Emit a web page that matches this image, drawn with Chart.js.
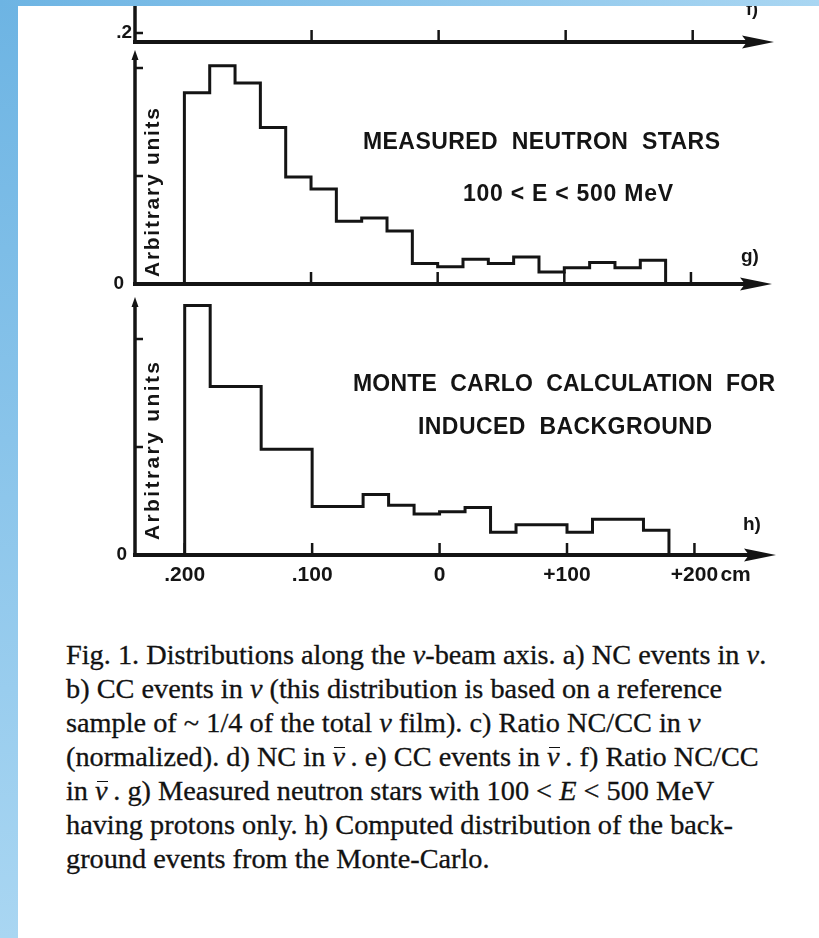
<!DOCTYPE html>
<html>
<head>
<meta charset="utf-8">
<script src="https://cdn.jsdelivr.net/npm/chart.js@4.4.1/dist/chart.umd.min.js"></script>
<style>
  html, body { margin: 0; padding: 0; background: #fff; }
  body { width: 819px; height: 938px; position: relative; overflow: hidden; }
  canvas { position: absolute; left: 0; }
  #edgeLeft { position: absolute; left: 0; top: 0; width: 18px; height: 938px; z-index: 5;
    background: linear-gradient(to bottom, #6db4e3, #a9d6f2); }
  #edgeTop { position: absolute; left: 0; top: 0; width: 819px; height: 6px; z-index: 5;
    background: linear-gradient(to right, #6db4e3, #a9d6f2); }
  #caption { position: absolute; left: 66px; top: 638px; color: #121212; white-space: nowrap;
    font-family: "Liberation Serif", "Times New Roman", serif; font-size: 28.3px; line-height: 34px;
    -webkit-text-stroke: 0.3px #121212; }
  .nb { position: relative; font-style: italic; }
  .nb::before { content: ''; position: absolute; left: 2px; right: 0; top: 6px;
    border-top: 1.5px solid #121212; }
</style>
</head>
<body>
<div id="edgeLeft"></div>
<div id="edgeTop"></div>
<canvas id="panelF" width="819" height="50" style="top:0px"></canvas>
<canvas id="panelG" width="819" height="256" style="top:44px"></canvas>
<canvas id="panelH" width="819" height="308" style="top:292px"></canvas>
<div id="caption">
  <div>Fig. 1. Distributions along the <i>ν</i>-beam axis. a) NC events in <i>ν</i>.</div>
  <div>b) CC events in <i>ν</i> (this distribution is based on a reference</div>
  <div>sample of ~ 1/4 of the total <i>ν</i> film). c) Ratio NC/CC in <i>ν</i></div>
  <div>(normalized). d) NC in <span class="nb">ν</span>&thinsp;. e) CC events in <span class="nb">ν</span>&thinsp;. f) Ratio NC/CC</div>
  <div>in <span class="nb">ν</span>&thinsp;. g) Measured neutron stars with 100 &lt; <i>E</i> &lt; 500 MeV</div>
  <div>having protons only. h) Computed distribution of the back-</div>
  <div>ground events from the Monte-Carlo.</div>
</div>
<script>
// Position along the beam axis (cm): 20 cm bins from -200 to +180
const binEdges = [-200, -180, -160, -140, -120, -100, -80, -60, -40, -20,
                  0, 20, 40, 60, 80, 100, 120, 140, 160, 180];

// g) measured neutron stars, 100 < E < 500 MeV (arbitrary units)
const measuredStars = [1.77, 2.02, 1.86, 1.45, 0.99, 0.88, 0.58, 0.61, 0.49, 0.19,
                       0.16, 0.23, 0.19, 0.25, 0.11, 0.15, 0.20, 0.15, 0.22];

// h) Monte Carlo induced background (arbitrary units)
const monteCarloBg = [2.31, 1.56, 1.56, 0.98, 0.98, 0.45, 0.45, 0.56, 0.46, 0.38,
                      0.40, 0.44, 0.21, 0.28, 0.28, 0.21, 0.33, 0.33, 0.23];

// axis ticks
const xTickValues = [-200, -100, 0, 100, 200];
const xTickLabels = ['.200', '.100', '0', '+100', '+200'];
const xUnit = 'cm';
const yTickValues = [1, 2];
const fTickValue = 0.2;
const fTickLabel = '.2';

const INK = '#141414';
const SANS = '"Liberation Sans", Arial, Helvetica, sans-serif';

// histogram outline: up at the first edge, across each bin, down at the last edge
function outline(edges, values) {
  const pts = [{ x: edges[0], y: 0 }];
  values.forEach((v, i) => {
    pts.push({ x: edges[i], y: v });
    pts.push({ x: edges[i + 1], y: v });
  });
  pts.push({ x: edges[edges.length - 1], y: 0 });
  return pts;
}

// draw text so that it runs exactly from left to right
function spread(ctx, text, left, right, y) {
  ctx.letterSpacing = '0px';
  const w = ctx.measureText(text).width;
  const n = [...text].length;
  const ls = n > 1 ? (right - left - w) / (n - 1) : 0;
  ctx.letterSpacing = ls + 'px';
  ctx.textAlign = 'left';
  ctx.fillText(text, left, y);
  ctx.letterSpacing = '0px';
}

// axes with arrows, inward ticks and the panel lettering
const figAxes = {
  id: 'figAxes',
  afterDatasetsDraw(chart, args, o) {
    const { ctx, chartArea: a, scales: { x, y } } = chart;
    const y0 = y.getPixelForValue(y.min);
    ctx.save();
    ctx.strokeStyle = INK;
    ctx.fillStyle = INK;
    ctx.lineCap = 'butt';

    // horizontal axis with a solid arrowhead
    const tip = a.right;
    ctx.lineWidth = 4;
    ctx.beginPath();
    ctx.moveTo(a.left - 2, y0);
    ctx.lineTo(tip - 24, y0);
    ctx.stroke();
    ctx.beginPath();
    ctx.moveTo(tip, y0);
    ctx.lineTo(tip - 32, y0 - 6.5);
    ctx.lineTo(tip - 27, y0);
    ctx.lineTo(tip - 32, y0 + 6.5);
    ctx.closePath();
    ctx.fill();

    // vertical axis
    ctx.lineWidth = 3.5;
    ctx.beginPath();
    ctx.moveTo(a.left, y0 + (o.yBelow || 2));
    ctx.lineTo(a.left, a.top + (o.yArrow ? 6 : 0));
    ctx.stroke();
    if (o.yArrow) {
      ctx.beginPath();
      ctx.moveTo(a.left, a.top);
      ctx.lineTo(a.left - 3.5, a.top + 10);
      ctx.lineTo(a.left + 3.5, a.top + 10);
      ctx.closePath();
      ctx.fill();
    }

    // x ticks pointing up from the axis
    ctx.lineWidth = 2.5;
    (o.xTicks || []).forEach(v => {
      const px = x.getPixelForValue(v);
      ctx.beginPath();
      ctx.moveTo(px, y0);
      ctx.lineTo(px, y0 - 12);
      ctx.stroke();
    });
    // y ticks pointing right from the axis
    (o.yTicks || []).forEach(v => {
      const py = y.getPixelForValue(v);
      ctx.beginPath();
      ctx.moveTo(a.left, py);
      ctx.lineTo(a.left + 8, py);
      ctx.stroke();
    });

    ctx.textBaseline = 'middle';
    // y tick labels
    (o.yLabels || []).forEach(l => {
      ctx.font = `bold ${l.size}px ${SANS}`;
      ctx.textAlign = 'right';
      ctx.fillText(l.text, a.left + l.dx, y.getPixelForValue(l.v));
    });
    // x tick labels
    if (o.xLabels) {
      ctx.font = `bold 21px ${SANS}`;
      ctx.textAlign = 'center';
      o.xLabels.values.forEach((v, i) => {
        ctx.fillText(o.xLabels.text[i], x.getPixelForValue(v), o.xLabels.y);
      });
      if (o.xLabels.unit) {
        ctx.textAlign = 'left';
        const last = o.xLabels.values[o.xLabels.values.length - 1];
        ctx.fillText(o.xLabels.unit, x.getPixelForValue(last) + 26, o.xLabels.y);
      }
    }
    // free lettering
    (o.texts || []).forEach(t => {
      ctx.font = `bold ${t.size}px ${SANS}`;
      if (t.rotate) {
        ctx.save();
        ctx.translate(t.cx, t.cy);
        ctx.rotate(-Math.PI / 2);
        spread(ctx, t.text, -t.span / 2, t.span / 2, 0);
        ctx.restore();
      } else if (t.right !== undefined) {
        spread(ctx, t.text, t.left, t.right, t.y);
      } else {
        ctx.textAlign = 'left';
        ctx.textBaseline = t.baseline || 'middle';
        ctx.fillText(t.text, t.left, t.y);
        ctx.textBaseline = 'middle';
      }
    });
    ctx.restore();
  }
};

function panel(id, datasets, yMin, yMax, padding, axes) {
  return new Chart(document.getElementById(id), {
    type: 'line',
    data: { datasets },
    options: {
      responsive: false,
      animation: false,
      devicePixelRatio: 1,
      layout: { padding },
      scales: {
        x: { type: 'linear', min: -239, max: 264, display: false },
        y: { type: 'linear', min: yMin, max: yMax, display: false }
      },
      elements: { point: { radius: 0 } },
      plugins: { legend: { display: false }, tooltip: { enabled: false }, figAxes: axes }
    },
    plugins: [figAxes]
  });
}

function histogram(values) {
  return {
    data: outline(binEdges, values),
    borderColor: INK,
    borderWidth: 3,
    borderJoinStyle: 'miter',
    borderCapStyle: 'butt',
    fill: false,
    tension: 0,
    clip: 4
  };
}

// f) lower edge of the ratio panel
panel('panelF', [], 0.1, 0.567, { left: 135, right: 45, top: 0, bottom: 8 }, {
  xTicks: xTickValues.slice(1),
  yTicks: [fTickValue],
  yBelow: 0,
  yLabels: [{ v: fTickValue, text: fTickLabel, size: 19, dx: -3 }],
  texts: [{ text: 'f)', left: 746, y: 15, size: 18, baseline: 'alphabetic' }]
});

// g) measured neutron stars
panel('panelG', [histogram(measuredStars)], 0, 2.1667, { left: 135, right: 47, top: 6, bottom: 16 }, {
  xTicks: xTickValues.slice(1),
  yTicks: yTickValues,
  yArrow: true,
  yLabels: [{ v: 0, text: '0', size: 19, dx: -11 }],
  texts: [
    { text: 'MEASURED  NEUTRON  STARS', left: 363, right: 720, y: 99, size: 23 },
    { text: '100 < E < 500 MeV', left: 463, right: 673, y: 151, size: 23 },
    { text: 'g)', left: 741, y: 213, size: 19 },
    { text: 'Arbitrary units', rotate: true, cx: 153, cy: 148.5, span: 169, size: 21 }
  ]
});

// h) Monte Carlo background
panel('panelH', [histogram(monteCarloBg)], 0, 2.389, { left: 135, right: 43, top: 5, bottom: 45 }, {
  xTicks: xTickValues,
  yTicks: yTickValues,
  yArrow: true,
  yLabels: [{ v: 0, text: '0', size: 19, dx: -8 }],
  xLabels: { values: xTickValues, text: xTickLabels, unit: xUnit, y: 283 },
  texts: [
    { text: 'MONTE  CARLO  CALCULATION  FOR', left: 353, right: 775, y: 93, size: 23 },
    { text: 'INDUCED  BACKGROUND', left: 418, right: 712, y: 136, size: 23 },
    { text: 'h)', left: 743, y: 233, size: 19 },
    { text: 'Arbitrary units', rotate: true, cx: 153, cy: 159, span: 178, size: 21 }
  ]
});
</script>
</body>
</html>
